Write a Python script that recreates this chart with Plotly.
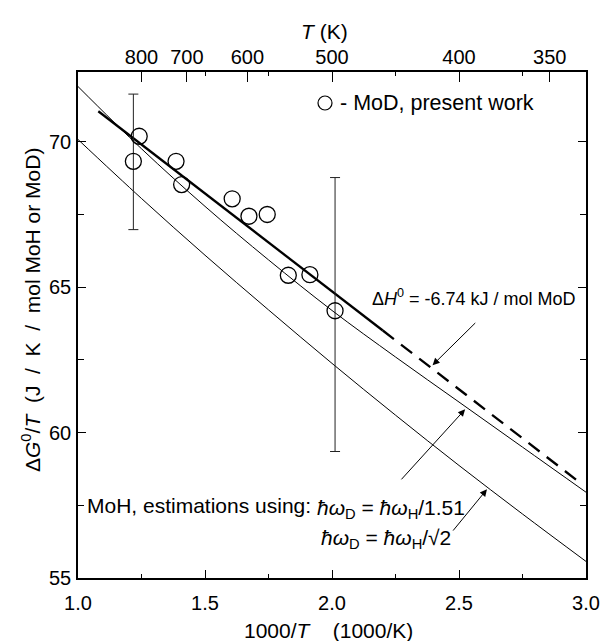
import plotly.graph_objects as go

# ---- data ----
x_mod = [1.218, 1.241, 1.386, 1.408, 1.607, 1.673, 1.745, 1.828, 1.913, 2.012]
y_mod = [69.33, 70.19, 69.33, 68.53, 68.04, 67.44, 67.50, 65.41, 65.43, 64.19]

x_err = [1.218, 2.012]
y_err = [69.33, 64.19]
err_plus = [2.31, 4.58]
err_minus = [2.35, 4.84]

x_fit = [1.08, 2.20]
y_fit = [71.05, 63.51]
x_fit_ext = [2.20, 2.985]
y_fit_ext = [63.51, 58.22]

x_est = [1.0, 1.25, 1.5, 1.75, 2.0, 2.25, 2.5, 2.75, 3.0]
y_est_151 = [71.90, 69.76, 67.78, 65.94, 64.20, 62.60, 61.05, 59.50, 57.95]
y_est_sqrt2 = [70.08, 68.05, 66.10, 64.22, 62.38, 60.60, 58.87, 57.20, 55.57]

x_ticks = [1.0, 1.5, 2.0, 2.5, 3.0]
x_ticktext = ["1.0", "1.5", "2.0", "2.5", "3.0"]
x_minor = [1.25, 1.75, 2.25, 2.75]
y_ticks = [55, 60, 65, 70]
y_minor = [57.5, 62.5, 67.5]
T_ticks = [800, 700, 600, 500, 400, 350]
top_minor = [1.5, 1.75, 2.25, 2.75]

FONT = "Liberation Sans, Arial, Helvetica, sans-serif"
L, R, T, B = 78, 15, 72, 63
W, H = 601, 641
PW, PH = W - L - R, H - T - B
NB = "\u00a0"


def px(xp):
    return (xp - L) / PW


def py(yp):
    return (H - B - yp) / PH


fig = go.Figure()

fig.add_trace(go.Scatter(x=x_est, y=y_est_151, mode="lines", xaxis="x2",
                         line=dict(color="black", width=1, shape="spline"),
                         showlegend=False, hoverinfo="skip"))
fig.add_trace(go.Scatter(x=x_est, y=y_est_sqrt2, mode="lines",
                         line=dict(color="black", width=1, shape="spline"),
                         showlegend=False, hoverinfo="skip"))
fig.add_trace(go.Scatter(x=x_fit, y=y_fit, mode="lines",
                         line=dict(color="black", width=2.3),
                         showlegend=False, hoverinfo="skip"))
fig.add_trace(go.Scatter(x=x_fit_ext, y=y_fit_ext, mode="lines",
                         line=dict(color="black", width=2.3, dash="14px,9px"),
                         showlegend=False, hoverinfo="skip"))
fig.add_trace(go.Scatter(x=x_err, y=y_err, mode="markers",
                         marker=dict(size=1, color="rgba(0,0,0,0)"),
                         error_y=dict(type="data", symmetric=False, array=err_plus,
                                      arrayminus=err_minus, color="#222", thickness=1, width=5),
                         showlegend=False, hoverinfo="skip"))
fig.add_trace(go.Scatter(x=x_mod, y=y_mod, mode="markers",
                         marker=dict(symbol="circle-open", size=16, color="black",
                                     line=dict(width=1.3)),
                         showlegend=False, name="MoD, present work"))

tickfont = dict(family=FONT, size=20, color="black")

fig.update_layout(
    template="none",
    width=W, height=H, autosize=False,
    margin=dict(l=L, r=R, t=T, b=B, pad=0),
    paper_bgcolor="white", plot_bgcolor="white",
    font=dict(family=FONT, color="black"),
    showlegend=False,
    xaxis=dict(range=[1, 3], tickmode="array", tickvals=x_ticks, ticktext=x_ticktext,
               ticks="inside", ticklen=8, tickwidth=1.3, tickcolor="black",
               showline=True, linewidth=1.5, linecolor="black", mirror=True,
               showgrid=False, zeroline=False, tickfont=tickfont, ticklabelstandoff=6,
               automargin=False,
               minor=dict(tickmode="array", tickvals=x_minor, ticks="inside", ticklen=4,
                          tickwidth=1.3, tickcolor="black", showgrid=False)),
    xaxis2=dict(range=[1, 3], overlaying="x", side="top", anchor="y", tickmode="array",
                tickvals=[1000.0 / t for t in T_ticks], ticktext=[str(t) for t in T_ticks],
                ticks="inside", ticklen=10, tickwidth=1.3, tickcolor="black",
                showline=True, linewidth=1.5, linecolor="black",
                showgrid=False, zeroline=False, tickfont=tickfont, ticklabelstandoff=-2,
                automargin=False,
                minor=dict(tickmode="array", tickvals=top_minor, ticks="inside", ticklen=4,
                           tickwidth=1.3, tickcolor="black", showgrid=False)),
    yaxis=dict(range=[55, 72.4], tickmode="array", tickvals=y_ticks,
               ticks="inside", ticklen=8, tickwidth=1.3, tickcolor="black",
               showline=True, linewidth=1.5, linecolor="black", mirror="ticks",
               showgrid=False, zeroline=False, tickfont=tickfont, ticklabelstandoff=1,
               automargin=False,
               minor=dict(tickmode="array", tickvals=y_minor, ticks="inside", ticklen=6,
                          tickwidth=1.3, tickcolor="black", showgrid=False)),
)

afont = dict(family=FONT, size=21, color="black")
annotations = [
    # axis titles
    dict(text="<i>T</i> (K)", x=px(324), y=py(31), xref="paper", yref="paper",
         xanchor="center", yanchor="middle", showarrow=False, font=afont),
    dict(text="1000/<i>T</i>" + NB * 4 + "(1000/K)", x=px(328), y=py(630),
         xref="paper", yref="paper",
         xanchor="center", yanchor="middle", showarrow=False, font=afont),
    dict(text="\u0394<i>G</i><sup>0</sup>/<i>T</i>" + NB * 2 + "(J" + NB + " /" + NB + " K"
              + NB + " /" + NB + " mol MoH or MoD)",
         x=px(31), y=py(310), xref="paper", yref="paper", textangle=-90,
         xanchor="center", yanchor="middle", showarrow=False, font=afont),
    # legend text
    dict(text="- MoD, present work", x=px(338), y=py(103), xref="paper", yref="paper",
         xanchor="left", yanchor="middle", showarrow=False,
         font=dict(family=FONT, size=21.5, color="black")),
    # labels
    dict(text="\u0394<i>H</i><sup>0</sup> = -6.74 kJ / mol MoD", x=px(474), y=py(297),
         xref="paper", yref="paper", xanchor="center", yanchor="middle",
         showarrow=False, font=dict(family=FONT, size=18, color="black")),
    dict(text="MoH, estimations using:", x=px(313), y=py(505), xref="paper", yref="paper",
         xanchor="right", yanchor="middle", showarrow=False, font=afont),
    dict(text="<i>\u0127\u03c9</i><sub>D</sub> = <i>\u0127\u03c9</i><sub>H</sub>/1.51",
         x=px(315), y=py(509), xref="paper", yref="paper",
         xanchor="left", yanchor="middle", showarrow=False, font=afont),
    dict(text="<i>\u0127\u03c9</i><sub>D</sub> = <i>\u0127\u03c9</i><sub>H</sub>/\u221a2",
         x=px(319), y=py(539), xref="paper", yref="paper",
         xanchor="left", yanchor="middle", showarrow=False, font=afont),
    # arrows
    dict(text="", x=2.396, y=62.32, ax=2.570, ay=63.82, xref="x", yref="y",
         axref="x", ayref="y", showarrow=True, arrowhead=2, arrowsize=1.4,
         arrowwidth=1, arrowcolor="black"),
    dict(text="", x=2.524, y=60.80, ax=2.268, ay=58.34, xref="x", yref="y",
         axref="x", ayref="y", showarrow=True, arrowhead=2, arrowsize=1.4,
         arrowwidth=1, arrowcolor="black"),
    dict(text="", x=2.610, y=58.05, ax=2.472, ay=56.58, xref="x", yref="y",
         axref="x", ayref="y", showarrow=True, arrowhead=2, arrowsize=1.4,
         arrowwidth=1, arrowcolor="black"),
]
fig.update_layout(annotations=annotations)

fig.add_shape(type="circle", xref="paper", yref="paper", xsizemode="pixel", ysizemode="pixel",
              xanchor=px(325), yanchor=py(103), x0=-7, x1=7, y0=-7, y1=7,
              line=dict(color="black", width=1.2))

fig.write_html("out.html")
